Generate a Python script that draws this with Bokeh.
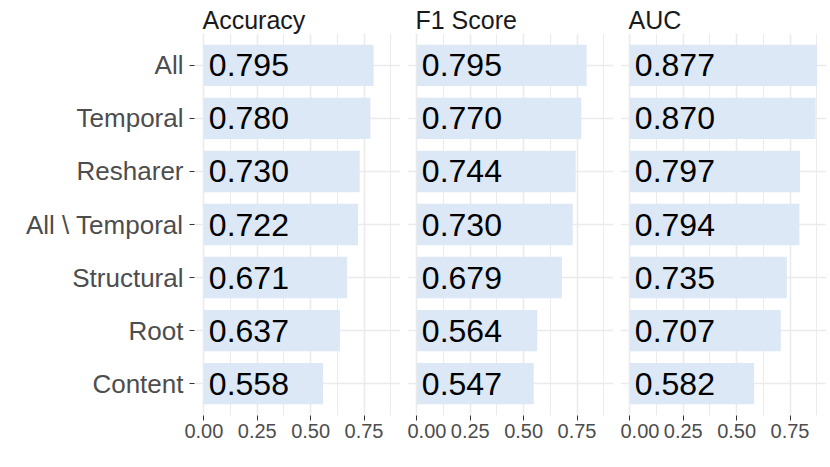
from bokeh.plotting import figure
from bokeh.layouts import row
from bokeh.models import FactorRange, Range1d, FixedTicker, ColumnDataSource
from bokeh.core.properties import value
from bokeh.embed import file_html
from bokeh.resources import INLINE

categories = ["All", "Temporal", "Resharer", "All \\ Temporal", "Structural", "Root", "Content"]
accuracy = [0.795, 0.780, 0.730, 0.722, 0.671, 0.637, 0.558]
f1_score = [0.795, 0.770, 0.744, 0.730, 0.679, 0.564, 0.547]
auc = [0.877, 0.870, 0.797, 0.794, 0.735, 0.707, 0.582]
panel_titles = ["Accuracy", "F1 Score", "AUC"]
x_ticks = [0.0, 0.25, 0.5, 0.75]
x_minor = [0.125, 0.375, 0.625, 0.875]
x_tick_labels = ["0.00", "0.25", "0.50", "0.75"]

FONT = "Liberation Sans"
BAR = "#dce8f5"
GRID = "#ebebeb"
AXTEXT = "#4d4d4d"

vmax = max(accuracy + f1_score + auc)
xstart, xend = -0.05 * vmax, 1.05 * vmax

factors = list(reversed(categories))
series = [accuracy, f1_score, auc]

FRAME_W = 206
FRAME_H = 382
LEFT = 194
GAP = 7
TOP = 33
BOTTOM = 40

figs = []
for i, (title, vals) in enumerate(zip(panel_titles, series)):
    first = i == 0
    bl = LEFT if first else 0
    br = GAP if i < 2 else 0
    p = figure(
        y_range=FactorRange(factors=factors, range_padding=0.2 / len(factors)),
        x_range=Range1d(xstart, xend),
        width=bl + FRAME_W + br,
        height=TOP + FRAME_H + BOTTOM,
        min_border_left=bl,
        min_border_right=br,
        min_border_top=TOP,
        min_border_bottom=BOTTOM,
        output_backend="svg",
        toolbar_location=None,
        title=title,
    )
    p.outline_line_color = None
    p.background_fill_color = "white"
    p.border_fill_color = "white"

    p.title.text_font = FONT
    p.title.text_font_size = "25px"
    p.title.text_font_style = "normal"
    p.title.text_color = "#1a1a1a"
    p.title.align = "left"
    p.title.offset = 8
    p.title.standoff = 0

    src = ColumnDataSource(dict(cat=categories, val=vals,
                                lab=["%.3f" % v for v in vals]))
    p.hbar(y="cat", left=0, right="val", height=0.78, source=src,
           fill_color=BAR, line_color=None)
    p.text(x=0, y="cat", text="lab", source=src, x_offset=5,
           text_align="left", text_baseline="middle",
           text_font=value(FONT), text_font_size="32px",
           text_color="black")

    p.xgrid.ticker = FixedTicker(ticks=x_ticks, minor_ticks=x_minor)
    p.xgrid.grid_line_color = GRID
    p.xgrid.grid_line_width = 1.6
    p.xgrid.minor_grid_line_color = GRID
    p.xgrid.minor_grid_line_width = 1.0
    p.ygrid.grid_line_color = GRID
    p.ygrid.grid_line_width = 1.6

    xa = p.xaxis[0]
    xa.ticker = FixedTicker(ticks=x_ticks)
    xa.major_label_overrides = {t: l for t, l in zip(x_ticks, x_tick_labels)}
    xa.axis_line_color = None
    xa.major_tick_in = 0
    xa.major_tick_out = 5
    xa.major_tick_line_color = "#333333"
    xa.minor_tick_line_color = None
    xa.major_label_text_font = FONT
    xa.major_label_text_font_size = "20px"
    xa.major_label_text_color = AXTEXT
    xa.major_label_standoff = 3

    ya = p.yaxis[0]
    if first:
        ya.axis_line_color = None
        ya.major_tick_in = 0
        ya.major_tick_out = 5
        ya.major_tick_line_color = "#333333"
        ya.minor_tick_line_color = None
        ya.major_label_text_font = FONT
        ya.major_label_text_font_size = "26px"
        ya.major_label_text_color = AXTEXT
        ya.major_label_standoff = 6
    else:
        ya.visible = False
    figs.append(p)

layout = row(*figs, spacing=0)
open("out.html", "w").write(file_html(layout, INLINE))
